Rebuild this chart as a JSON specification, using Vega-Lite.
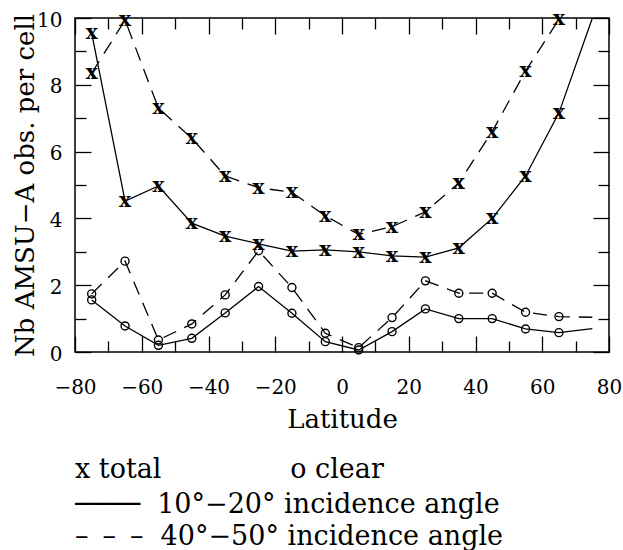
{
  "$schema": "https://vega.github.io/schema/vega-lite/v6.json",
  "autosize": {"type": "none"},
  "width": 534,
  "height": 334,
  "padding": {"left": 75, "top": 18, "right": 14, "bottom": 198},
  "background": "white",
  "config": {
    "font": "DejaVu Serif",
    "view": {"stroke": "black", "strokeWidth": 1.5},
    "axis": {"domain": false, "grid": false, "tickColor": "black", "tickWidth": 1.3, "labelColor": "black", "titleColor": "black", "labelFont": "DejaVu Serif", "titleFont": "DejaVu Serif", "labelFontSize": 20, "titleFontSize": 26, "titleFontWeight": "normal"}
  },
  "title": {
    "text": "x total\u00a0\u00a0\u00a0\u00a0\u00a0\u00a0\u00a0\u00a0\u00a0\u00a0\u00a0\u00a0\u00a0\u00a0\u00a0o clear",
    "subtitle": ["\u2500\u2500\u2500\u2500\u00a0\u00a010\u00b0\u221220\u00b0 incidence angle", "\u2013\u00a0\u2009\u2013\u00a0\u2009\u2013\u00a0\u00a040\u00b0\u221250\u00b0 incidence angle"],
    "orient": "bottom",
    "anchor": "start",
    "frame": "group",
    "font": "DejaVu Serif, DejaVu Sans",
    "fontSize": 27,
    "fontWeight": "normal",
    "color": "black",
    "subtitleFont": "DejaVu Serif, DejaVu Sans",
    "subtitleFontSize": 27,
    "subtitleColor": "black",
    "subtitleLineHeight": 32,
    "subtitlePadding": 8,
    "offset": 25
  },
  "data": {
    "values": [
      {"lat": -75, "n": 9.55, "count": "total", "angle": "10\u00b0\u201320\u00b0", "measured": true},
      {"lat": -65, "n": 4.52, "count": "total", "angle": "10\u00b0\u201320\u00b0", "measured": true},
      {"lat": -55, "n": 4.97, "count": "total", "angle": "10\u00b0\u201320\u00b0", "measured": true},
      {"lat": -45, "n": 3.86, "count": "total", "angle": "10\u00b0\u201320\u00b0", "measured": true},
      {"lat": -35, "n": 3.47, "count": "total", "angle": "10\u00b0\u201320\u00b0", "measured": true},
      {"lat": -25, "n": 3.24, "count": "total", "angle": "10\u00b0\u201320\u00b0", "measured": true},
      {"lat": -15, "n": 3.02, "count": "total", "angle": "10\u00b0\u201320\u00b0", "measured": true},
      {"lat": -5, "n": 3.06, "count": "total", "angle": "10\u00b0\u201320\u00b0", "measured": true},
      {"lat": 5, "n": 3.0, "count": "total", "angle": "10\u00b0\u201320\u00b0", "measured": true},
      {"lat": 15, "n": 2.88, "count": "total", "angle": "10\u00b0\u201320\u00b0", "measured": true},
      {"lat": 25, "n": 2.84, "count": "total", "angle": "10\u00b0\u201320\u00b0", "measured": true},
      {"lat": 35, "n": 3.12, "count": "total", "angle": "10\u00b0\u201320\u00b0", "measured": true},
      {"lat": 45, "n": 4.0, "count": "total", "angle": "10\u00b0\u201320\u00b0", "measured": true},
      {"lat": 55, "n": 5.27, "count": "total", "angle": "10\u00b0\u201320\u00b0", "measured": true},
      {"lat": 65, "n": 7.16, "count": "total", "angle": "10\u00b0\u201320\u00b0", "measured": true},
      {"lat": 75, "n": 9.99, "count": "total", "angle": "10\u00b0\u201320\u00b0", "measured": false},
      {"lat": -75, "n": 8.35, "count": "total", "angle": "40\u00b0\u201350\u00b0", "measured": true},
      {"lat": -65, "n": 9.94, "count": "total", "angle": "40\u00b0\u201350\u00b0", "measured": true},
      {"lat": -55, "n": 7.3, "count": "total", "angle": "40\u00b0\u201350\u00b0", "measured": true},
      {"lat": -45, "n": 6.4, "count": "total", "angle": "40\u00b0\u201350\u00b0", "measured": true},
      {"lat": -35, "n": 5.27, "count": "total", "angle": "40\u00b0\u201350\u00b0", "measured": true},
      {"lat": -25, "n": 4.92, "count": "total", "angle": "40\u00b0\u201350\u00b0", "measured": true},
      {"lat": -15, "n": 4.78, "count": "total", "angle": "40\u00b0\u201350\u00b0", "measured": true},
      {"lat": -5, "n": 4.08, "count": "total", "angle": "40\u00b0\u201350\u00b0", "measured": true},
      {"lat": 5, "n": 3.52, "count": "total", "angle": "40\u00b0\u201350\u00b0", "measured": true},
      {"lat": 15, "n": 3.75, "count": "total", "angle": "40\u00b0\u201350\u00b0", "measured": true},
      {"lat": 25, "n": 4.2, "count": "total", "angle": "40\u00b0\u201350\u00b0", "measured": true},
      {"lat": 35, "n": 5.06, "count": "total", "angle": "40\u00b0\u201350\u00b0", "measured": true},
      {"lat": 45, "n": 6.6, "count": "total", "angle": "40\u00b0\u201350\u00b0", "measured": true},
      {"lat": 55, "n": 8.41, "count": "total", "angle": "40\u00b0\u201350\u00b0", "measured": true},
      {"lat": 65, "n": 9.96, "count": "total", "angle": "40\u00b0\u201350\u00b0", "measured": true},
      {"lat": -75, "n": 1.56, "count": "clear", "angle": "10\u00b0\u201320\u00b0", "measured": true},
      {"lat": -65, "n": 0.78, "count": "clear", "angle": "10\u00b0\u201320\u00b0", "measured": true},
      {"lat": -55, "n": 0.2, "count": "clear", "angle": "10\u00b0\u201320\u00b0", "measured": true},
      {"lat": -45, "n": 0.41, "count": "clear", "angle": "10\u00b0\u201320\u00b0", "measured": true},
      {"lat": -35, "n": 1.17, "count": "clear", "angle": "10\u00b0\u201320\u00b0", "measured": true},
      {"lat": -25, "n": 1.96, "count": "clear", "angle": "10\u00b0\u201320\u00b0", "measured": true},
      {"lat": -15, "n": 1.16, "count": "clear", "angle": "10\u00b0\u201320\u00b0", "measured": true},
      {"lat": -5, "n": 0.31, "count": "clear", "angle": "10\u00b0\u201320\u00b0", "measured": true},
      {"lat": 5, "n": 0.06, "count": "clear", "angle": "10\u00b0\u201320\u00b0", "measured": true},
      {"lat": 15, "n": 0.61, "count": "clear", "angle": "10\u00b0\u201320\u00b0", "measured": true},
      {"lat": 25, "n": 1.29, "count": "clear", "angle": "10\u00b0\u201320\u00b0", "measured": true},
      {"lat": 35, "n": 1.0, "count": "clear", "angle": "10\u00b0\u201320\u00b0", "measured": true},
      {"lat": 45, "n": 1.0, "count": "clear", "angle": "10\u00b0\u201320\u00b0", "measured": true},
      {"lat": 55, "n": 0.69, "count": "clear", "angle": "10\u00b0\u201320\u00b0", "measured": true},
      {"lat": 65, "n": 0.58, "count": "clear", "angle": "10\u00b0\u201320\u00b0", "measured": true},
      {"lat": 75, "n": 0.7, "count": "clear", "angle": "10\u00b0\u201320\u00b0", "measured": false},
      {"lat": -75, "n": 1.74, "count": "clear", "angle": "40\u00b0\u201350\u00b0", "measured": true},
      {"lat": -65, "n": 2.72, "count": "clear", "angle": "40\u00b0\u201350\u00b0", "measured": true},
      {"lat": -55, "n": 0.36, "count": "clear", "angle": "40\u00b0\u201350\u00b0", "measured": true},
      {"lat": -45, "n": 0.84, "count": "clear", "angle": "40\u00b0\u201350\u00b0", "measured": true},
      {"lat": -35, "n": 1.71, "count": "clear", "angle": "40\u00b0\u201350\u00b0", "measured": true},
      {"lat": -25, "n": 3.03, "count": "clear", "angle": "40\u00b0\u201350\u00b0", "measured": true},
      {"lat": -15, "n": 1.93, "count": "clear", "angle": "40\u00b0\u201350\u00b0", "measured": true},
      {"lat": -5, "n": 0.56, "count": "clear", "angle": "40\u00b0\u201350\u00b0", "measured": true},
      {"lat": 5, "n": 0.13, "count": "clear", "angle": "40\u00b0\u201350\u00b0", "measured": true},
      {"lat": 15, "n": 1.03, "count": "clear", "angle": "40\u00b0\u201350\u00b0", "measured": true},
      {"lat": 25, "n": 2.13, "count": "clear", "angle": "40\u00b0\u201350\u00b0", "measured": true},
      {"lat": 35, "n": 1.76, "count": "clear", "angle": "40\u00b0\u201350\u00b0", "measured": true},
      {"lat": 45, "n": 1.76, "count": "clear", "angle": "40\u00b0\u201350\u00b0", "measured": true},
      {"lat": 55, "n": 1.19, "count": "clear", "angle": "40\u00b0\u201350\u00b0", "measured": true},
      {"lat": 65, "n": 1.06, "count": "clear", "angle": "40\u00b0\u201350\u00b0", "measured": true},
      {"lat": 75, "n": 1.04, "count": "clear", "angle": "40\u00b0\u201350\u00b0", "measured": false}
    ]
  },
  "resolve": {"axis": {"x": "independent", "y": "independent"}},
  "layer": [
    {
      "transform": [{"filter": "datum.count === 'total' && datum.angle === '10\u00b0\u201320\u00b0'"}],
      "mark": {"type": "line", "color": "black", "strokeWidth": 1.3},
      "encoding": {
        "x": {"field": "lat", "type": "quantitative", "scale": {"domain": [-80, 80], "nice": false, "zero": false}, "axis": null},
        "y": {"field": "n", "type": "quantitative", "scale": {"domain": [0, 10], "nice": false, "zero": false}, "axis": null},
        "order": {"field": "lat", "type": "quantitative"}
      }
    },
    {
      "transform": [{"filter": "datum.count === 'clear' && datum.angle === '10\u00b0\u201320\u00b0'"}],
      "mark": {"type": "line", "color": "black", "strokeWidth": 1.3},
      "encoding": {
        "x": {"field": "lat", "type": "quantitative", "axis": null},
        "y": {"field": "n", "type": "quantitative", "axis": null},
        "order": {"field": "lat", "type": "quantitative"}
      }
    },
    {
      "transform": [{"filter": "datum.count === 'total' && datum.angle === '40\u00b0\u201350\u00b0'"}],
      "mark": {"type": "line", "color": "black", "strokeWidth": 1.3, "strokeDash": [14, 9]},
      "encoding": {
        "x": {"field": "lat", "type": "quantitative", "axis": null},
        "y": {"field": "n", "type": "quantitative", "axis": null},
        "order": {"field": "lat", "type": "quantitative"}
      }
    },
    {
      "transform": [{"filter": "datum.count === 'clear' && datum.angle === '40\u00b0\u201350\u00b0'"}],
      "mark": {"type": "line", "color": "black", "strokeWidth": 1.3, "strokeDash": [14, 9]},
      "encoding": {
        "x": {"field": "lat", "type": "quantitative", "axis": null},
        "y": {"field": "n", "type": "quantitative", "axis": null},
        "order": {"field": "lat", "type": "quantitative"}
      }
    },
    {
      "transform": [{"filter": "datum.measured && datum.count === 'total'"}],
      "mark": {"type": "text", "text": "x", "font": "DejaVu Serif", "fontSize": 20, "fontWeight": "bold", "align": "center", "baseline": "middle", "color": "black"},
      "encoding": {
        "x": {
          "field": "lat", "type": "quantitative",
          "axis": {
            "orient": "bottom",
            "values": [-80, -70, -60, -50, -40, -30, -20, -10, 0, 10, 20, 30, 40, 50, 60, 70, 80],
            "tickSize": {"condition": {"test": "datum.value % 20 === 0", "value": -16}, "value": -11},
            "labelExpr": "datum.value % 20 === 0 ? datum.label : ''",
            "labelPadding": 41,
            "labelBaseline": "top",
            "labelFlush": false,
            "labelOverlap": false,
            "title": "Latitude",
            "titleX": 267,
            "titleY": 75,
            "titleBaseline": "alphabetic"
          }
        },
        "y": {
          "field": "n", "type": "quantitative",
          "axis": {
            "orient": "left",
            "values": [0, 1, 2, 3, 4, 5, 6, 7, 8, 9, 10],
            "tickSize": {"condition": {"test": "datum.value % 2 === 0", "value": -16}, "value": -11},
            "labelExpr": "datum.value % 2 === 0 ? datum.label : ''",
            "labelPadding": 29,
            "labelOffset": 2,
            "labelOverlap": false,
            "labelFlush": false,
            "title": "Nb AMSU\u2212A obs. per cell",
            "titleAngle": -90,
            "titleX": -50,
            "titleY": 167,
            "titleAlign": "center",
            "titleBaseline": "middle"
          }
        }
      }
    },
    {
      "transform": [{"filter": "datum.measured && datum.count === 'clear'"}],
      "mark": {"type": "point", "shape": "circle", "size": 64, "filled": false, "stroke": "black", "strokeWidth": 1.4, "opacity": 1},
      "encoding": {
        "x": {
          "field": "lat", "type": "quantitative",
          "axis": {
            "orient": "top",
            "values": [-80, -70, -60, -50, -40, -30, -20, -10, 0, 10, 20, 30, 40, 50, 60, 70, 80],
            "tickSize": {"condition": {"test": "datum.value % 20 === 0", "value": -16}, "value": -11},
            "labels": false,
            "title": null
          }
        },
        "y": {
          "field": "n", "type": "quantitative",
          "axis": {
            "orient": "right",
            "values": [0, 1, 2, 3, 4, 5, 6, 7, 8, 9, 10],
            "tickSize": {"condition": {"test": "datum.value % 2 === 0", "value": -16}, "value": -11},
            "labels": false,
            "title": null
          }
        }
      }
    }
  ]
}
